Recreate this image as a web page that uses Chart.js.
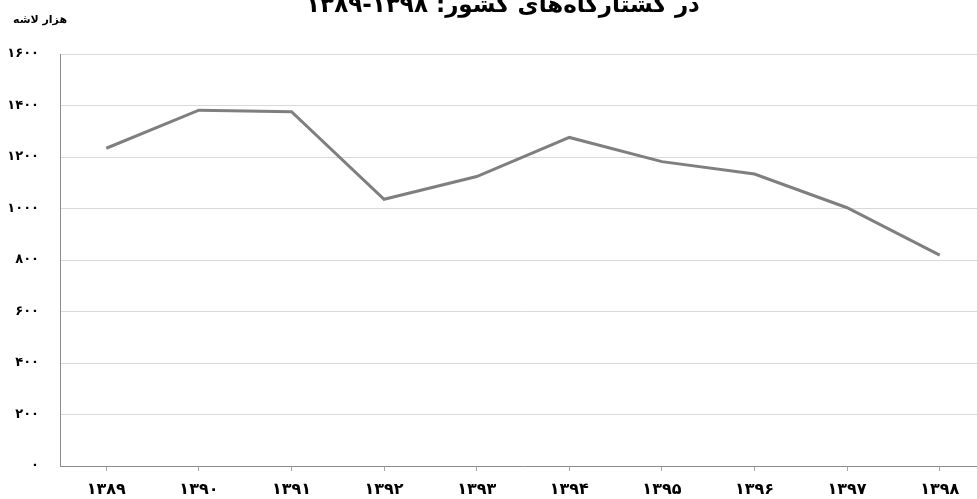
<!DOCTYPE html>
<html lang="fa">
<head>
<meta charset="utf-8">
<script src="https://cdn.jsdelivr.net/npm/chart.js@4.4.1/dist/chart.umd.min.js"></script>
<style>
  html, body { margin: 0; padding: 0; background: #fff; overflow: hidden; }
  #wrap { position: relative; width: 986px; height: 499px; }
</style>
</head>
<body>
<div id="wrap"><canvas id="chart"></canvas></div>
<script>
// data
const years = ['۱۳۸۹', '۱۳۹۰', '۱۳۹۱', '۱۳۹۲', '۱۳۹۳', '۱۳۹۴', '۱۳۹۵', '۱۳۹۶', '۱۳۹۷', '۱۳۹۸'];
const carcasses = [1234, 1382, 1376, 1036, 1124, 1276, 1182, 1134, 1003, 819];
const yTicks = [0, 200, 400, 600, 800, 1000, 1200, 1400, 1600];

const titleText = 'در کشتارگاه‌های کشور: ۱۳۹۸-۱۳۸۹';
const unitText = 'هزار لاشه';
const FONT = '"DejaVu Sans", sans-serif';

const faDigits = n => String(n).replace(/\d/g, d => '۰۱۲۳۴۵۶۷۸۹'[d]);

// title (its top is cut off in the source) and unit label
const textPlugin = {
  id: 'extraText',
  afterDraw(chart) {
    const c = chart.ctx;
    c.save();
    c.fillStyle = '#000';
    c.direction = 'rtl';
    c.textAlign = 'center';
    c.textBaseline = 'alphabetic';
    c.font = 'bold 23px ' + FONT;
    c.fillText(titleText, 503, 12);
    c.font = 'bold 11px ' + FONT;
    c.textBaseline = 'middle';
    c.fillText(unitText, 40, 20);
    c.restore();
  }
};

new Chart(document.getElementById('chart'), {
  type: 'line',
  data: {
    labels: years,
    datasets: [{
      data: carcasses,
      borderColor: '#7f7f7f',
      borderWidth: 3,
      pointRadius: 0,
      tension: 0,
      fill: false
    }]
  },
  options: {
    responsive: true,
    maintainAspectRatio: false,
    animation: false,
    layout: { padding: { top: 54, left: 0, right: 0, bottom: 0 } },
    plugins: {
      legend: { display: false },
      tooltip: { enabled: false },
      title: { display: false }
    },
    scales: {
      x: {
        offset: true,
        afterFit: s => { s.height = 33; },
        grid: { offset: false, drawOnChartArea: false, tickLength: 5, color: '#a6a6a6' },
        border: { color: '#8c8c8c', width: 1 },
        ticks: { color: '#000', padding: 9, maxRotation: 0, font: { family: FONT, size: 16, weight: 'bold' } }
      },
      y: {
        min: 0,
        max: 1600,
        afterBuildTicks: s => { s.ticks = yTicks.map(v => ({ value: v })); },
        afterFit: s => { s.width = 60; },
        grid: { color: '#d9d9d9', drawTicks: false },
        border: { color: '#8c8c8c', width: 1 },
        ticks: {
          color: '#000',
          padding: 21,
          font: { family: FONT, size: 13, weight: 'bold' },
          callback: v => faDigits(v)
        }
      }
    }
  },
  plugins: [textPlugin]
});
</script>
</body>
</html>
